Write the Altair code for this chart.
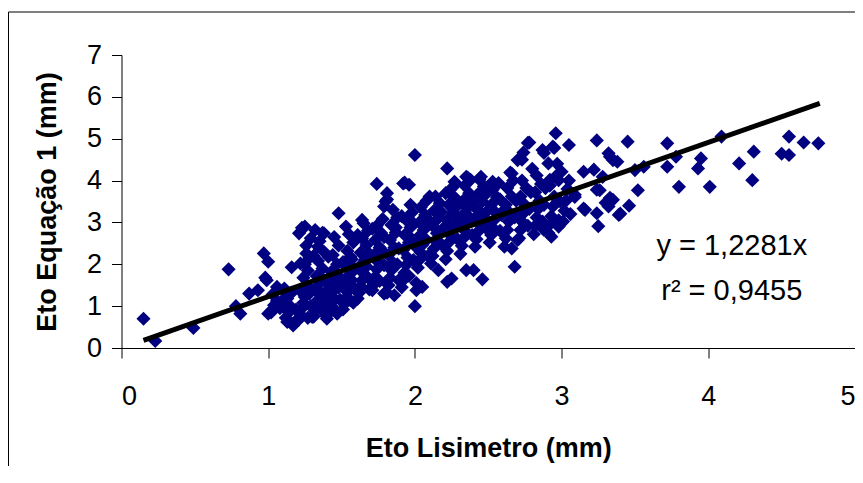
import altair as alt
import pandas as pd

# Eto Lisimetro (mm) -- x values
eto_lisimetro = [
    0.15, 0.23, 0.49, 0.73, 0.81, 0.78, 0.87, 0.93, 0.97, 1.00, 0.98, 1.00, 1.06, 1.12, 1.13, 1.17,
    1.21, 1.25, 1.22, 1.26, 1.32, 1.34, 1.38, 1.41, 1.48, 1.53, 1.56, 1.47, 1.40, 1.30, 1.56, 1.64,
    1.74, 1.81, 1.79, 1.92, 1.96, 1.97, 2.00, 2.00, 2.05, 2.01, 1.86, 1.79, 2.10, 2.22, 2.27, 2.35,
    2.16, 2.22, 2.25, 2.35, 2.40, 2.46, 2.68, 2.66, 2.70, 2.66, 2.70, 2.74, 2.78, 2.87, 2.91, 2.96,
    2.94, 3.05, 3.00, 2.98, 2.93, 2.98, 3.09, 3.15, 3.16, 3.24, 3.24, 3.25, 3.28, 3.26, 3.32, 3.35,
    3.32, 3.35, 3.39, 3.45, 3.46, 3.52, 3.50, 3.56, 3.72, 3.72, 3.80, 3.78, 3.93, 3.95, 4.01, 4.09,
    4.21, 4.31, 4.30, 4.50, 4.55, 4.55, 4.65, 4.75,
    1.93, 2.16, 1.80, 1.23, 1.37, 2.77, 2.95, 2.88, 3.33, 3.38, 2.73, 2.80, 3.22, 2.36, 2.45, 2.53,
    2.65, 2.92, 3.24, 3.09, 3.33, 3.30, 3.15, 3.40, 0.99, 1.16, 1.12, 1.02,
    1.02, 1.04, 1.06, 1.03, 1.08,
    1.10, 1.12, 1.14, 1.15, 1.13, 1.16, 1.18, 1.19, 1.11,
    1.21, 1.22, 1.23, 1.24, 1.25, 1.22, 1.26, 1.24, 1.27, 1.25, 1.28, 1.26, 1.29, 1.27, 1.29, 1.28,
    1.31, 1.32, 1.33, 1.34, 1.35, 1.32, 1.36, 1.33, 1.37, 1.34, 1.38, 1.35, 1.31, 1.36, 1.38, 1.39, 1.37, 1.39,
    1.41, 1.42, 1.43, 1.44, 1.45, 1.42, 1.46, 1.43, 1.47, 1.44, 1.48, 1.45, 1.46, 1.49, 1.48, 1.47, 1.41,
    1.51, 1.52, 1.53, 1.54, 1.55, 1.52, 1.56, 1.53, 1.57, 1.54, 1.58, 1.55, 1.58, 1.59, 1.57, 1.59, 1.51,
    1.61, 1.62, 1.63, 1.64, 1.65, 1.62, 1.66, 1.63, 1.67, 1.64, 1.68, 1.65, 1.69, 1.68, 1.67, 1.69, 1.61,
    1.71, 1.72, 1.73, 1.74, 1.75, 1.72, 1.76, 1.73, 1.77, 1.74, 1.78, 1.76, 1.79, 1.78, 1.79, 1.71,
    1.81, 1.82, 1.83, 1.84, 1.85, 1.82, 1.86, 1.83, 1.87, 1.84, 1.88, 1.85, 1.89, 1.88, 1.89, 1.87, 1.81,
    1.91, 1.92, 1.93, 1.94, 1.95, 1.92, 1.96, 1.93, 1.97, 1.94, 1.98, 1.96, 1.99, 1.98, 1.99, 1.91,
    2.01, 2.02, 2.03, 2.04, 2.05, 2.02, 2.06, 2.03, 2.07, 2.04, 2.08, 2.09, 2.08, 2.09, 2.01,
    2.11, 2.12, 2.13, 2.14, 2.15, 2.12, 2.16, 2.13, 2.17, 2.14, 2.18, 2.19, 2.18, 2.11,
    2.21, 2.22, 2.23, 2.24, 2.25, 2.22, 2.26, 2.23, 2.27, 2.24, 2.28, 2.29, 2.28, 2.29, 2.21,
    2.31, 2.32, 2.33, 2.34, 2.35, 2.32, 2.36, 2.33, 2.37, 2.34, 2.38, 2.39, 2.38, 2.39, 2.31,
    2.41, 2.42, 2.43, 2.44, 2.45, 2.42, 2.46, 2.43, 2.47, 2.44, 2.48, 2.49, 2.48, 2.41,
    2.51, 2.52, 2.53, 2.54, 2.55, 2.52, 2.56, 2.53, 2.57, 2.58, 2.59, 2.58, 2.51,
    2.61, 2.62, 2.63, 2.64, 2.65, 2.62, 2.66, 2.63, 2.67, 2.68, 2.69, 2.61,
    2.71, 2.72, 2.73, 2.74, 2.75, 2.72, 2.76, 2.73, 2.77, 2.78, 2.79, 2.71,
    2.81, 2.82, 2.83, 2.84, 2.85, 2.82, 2.86, 2.83, 2.87, 2.88, 2.89, 2.88,
    2.91, 2.92, 2.93, 2.94, 2.95, 2.92, 2.96, 2.97, 2.98, 2.99,
    3.01, 3.02, 3.03, 3.04, 3.05, 3.06,
]

# Eto Equação 1 (mm) -- y values
eto_equacao = [
    0.70, 0.17, 0.48, 1.88, 0.82, 1.00, 1.30, 1.38, 2.26, 2.06, 1.68, 0.82, 1.46, 1.22, 0.62, 0.54,
    2.74, 2.90, 2.02, 2.26, 2.82, 2.42, 2.74, 2.18, 3.22, 2.90, 2.18, 0.82, 0.70, 0.74, 1.14, 3.06,
    3.92, 3.70, 3.38, 3.93, 3.90, 3.42, 4.61, 1.00, 1.46, 1.38, 1.26, 1.30, 3.62, 4.29, 3.97, 4.09,
    1.86, 1.58, 1.66, 1.86, 1.86, 1.64, 1.94, 2.38, 2.58, 4.17, 4.49, 4.67, 4.91, 4.73, 4.41, 5.13,
    4.81, 4.85, 4.21, 4.01, 2.66, 2.90, 3.66, 4.21, 3.30, 4.96, 3.22, 2.91, 4.09, 3.77, 4.65, 4.49,
    3.38, 3.54, 3.18, 4.93, 3.40, 3.77, 4.25, 4.33, 4.89, 4.33, 3.85, 4.57, 4.29, 4.53, 3.85, 5.05,
    4.41, 4.69, 4.01, 4.64, 4.61, 5.05, 4.91, 4.89,
    3.95, 3.30, 3.50, 2.87, 2.75, 4.90, 4.78, 4.66, 4.57, 4.45, 4.50, 4.28, 4.26, 4.07, 4.09, 3.97,
    4.19, 4.02, 3.78, 3.61, 3.59, 3.47, 3.33, 3.21, 1.62, 1.93, 1.07, 0.85,
    0.88, 1.02, 1.12, 1.28, 0.95,
    1.05, 0.72, 0.85, 1.00, 1.18, 1.32, 0.62, 0.92, 1.42,
    0.68, 0.80, 0.95, 1.08, 1.22, 1.36, 1.52, 1.68, 1.85, 2.00, 2.15, 2.45, 2.62, 0.72, 1.00, 1.30,
    0.75, 0.88, 1.02, 1.15, 1.28, 1.42, 1.58, 1.72, 1.90, 2.08, 2.30, 2.55, 2.20, 0.95, 1.10, 1.35, 1.65, 0.78,
    0.82, 0.95, 1.08, 1.22, 1.38, 1.52, 1.66, 1.82, 2.00, 2.22, 2.45, 2.65, 0.90, 1.15, 1.45, 1.75, 1.28,
    0.92, 1.05, 1.20, 1.34, 1.48, 1.62, 1.78, 1.95, 2.12, 2.32, 2.52, 2.72, 1.08, 1.40, 1.62, 1.88, 2.05,
    1.18, 1.32, 1.48, 1.62, 1.78, 1.94, 2.10, 2.28, 2.46, 2.62, 2.80, 2.98, 1.40, 1.68, 1.95, 2.25, 2.70,
    1.38, 1.52, 1.70, 1.88, 2.05, 2.22, 2.40, 2.58, 2.75, 2.92, 3.08, 1.60, 1.98, 2.32, 2.65, 2.85,
    1.32, 1.50, 1.68, 1.86, 2.04, 2.22, 2.40, 2.58, 2.76, 2.94, 3.12, 3.30, 1.62, 2.00, 2.38, 2.88, 3.55,
    1.45, 1.62, 1.80, 1.98, 2.16, 2.34, 2.52, 2.70, 2.88, 3.06, 3.24, 1.72, 2.10, 2.60, 2.98, 3.15,
    1.55, 1.92, 2.10, 2.28, 2.46, 2.64, 2.82, 3.00, 3.18, 3.36, 3.52, 2.20, 2.58, 2.95, 2.40,
    2.02, 2.20, 2.38, 2.56, 2.74, 2.92, 3.10, 3.28, 3.46, 3.62, 2.48, 2.85, 3.25, 3.00,
    2.12, 2.32, 2.52, 2.70, 2.88, 3.06, 3.24, 3.42, 3.60, 3.78, 3.92, 2.60, 3.00, 3.40, 3.70,
    2.25, 2.44, 2.62, 2.80, 2.98, 3.16, 3.34, 3.52, 3.70, 3.88, 4.02, 2.70, 3.10, 3.50, 3.00,
    2.42, 2.60, 2.78, 2.96, 3.14, 3.32, 3.50, 3.68, 3.86, 4.02, 2.88, 3.26, 3.66, 3.10,
    2.52, 2.70, 2.88, 3.06, 3.24, 3.42, 3.60, 3.78, 3.94, 2.80, 3.18, 3.55, 3.00,
    2.42, 2.62, 2.82, 3.02, 3.22, 3.42, 3.62, 3.82, 4.00, 3.12, 3.52, 3.30,
    2.62, 2.82, 3.02, 3.22, 3.42, 3.62, 3.82, 4.00, 2.92, 3.32, 3.72, 3.15,
    2.72, 2.92, 3.12, 3.32, 3.52, 3.72, 3.92, 4.12, 3.02, 3.42, 3.82, 2.82,
    2.75, 2.95, 3.15, 3.38, 3.62, 3.88, 4.10, 4.40, 3.05, 3.50,
    3.02, 3.28, 3.52, 3.80, 4.00, 3.20,
]

# Linear trend line through the origin
slope = 1.2281
line_x = [0.15, 4.76]
line_y = [slope * v for v in line_x]

label_text = ["y = 1,2281x", "r² = 0,9455"]
label_x = [4.16, 4.16]
label_y = [2.43, 1.35]

n = min(len(eto_lisimetro), len(eto_equacao))
points = pd.DataFrame({"x": eto_lisimetro[:n], "y": eto_equacao[:n]})
trend = pd.DataFrame({"x": line_x, "y": line_y})
labels = pd.DataFrame({"x": label_x, "y": label_y, "t": label_text})
frame = pd.DataFrame({"a": [0]})

FONT = "Liberation Sans"

x_enc = alt.X(
    "x:Q",
    scale=alt.Scale(domain=[0, 5], nice=False, zero=True),
    axis=alt.Axis(values=[0, 1, 2, 3, 4, 5], title="Eto Lisimetro (mm)", format="d",
                  labelPadding=25, titlePadding=26),
)
y_enc = alt.Y(
    "y:Q",
    scale=alt.Scale(domain=[0, 7], nice=False, zero=True),
    axis=alt.Axis(values=[0, 1, 2, 3, 4, 5, 6, 7], title="Eto Equação 1 (mm)", format="d",
                  labelPadding=10, titlePadding=25),
)

box = alt.Chart(frame).mark_rect(fill="transparent", stroke="#000000", strokeWidth=1).encode(
    x=alt.value(-113), x2=alt.value(900), y=alt.value(-43), y2=alt.value(600)
)

scatter = alt.Chart(points).mark_point(
    shape="diamond", filled=True, size=200, color="#000080", opacity=1
).encode(x=x_enc, y=y_enc)

line = alt.Chart(trend).mark_line(color="#000000", strokeWidth=5, strokeCap="butt").encode(
    x=x_enc, y=y_enc
)

text = alt.Chart(labels).mark_text(
    font=FONT, fontSize=29, color="#000000", align="center", baseline="middle"
).encode(x=x_enc, y=y_enc, text="t:N")

chart = (
    alt.layer(box, scatter, line, text)
    .properties(
        width=733.5,
        height=293,
        autosize=alt.AutoSizeParams(type="none"),
        padding={"left": 113.5, "top": 47, "right": 0, "bottom": 118},
    )
    .configure_view(stroke=None)
    .configure_axis(
        grid=False,
        domainColor="#000000",
        domainWidth=1,
        tickColor="#000000",
        tickWidth=1,
        tickSize=10,
        labelFont=FONT,
        labelFontSize=27,
        labelColor="#000000",
        titleFont=FONT,
        titleFontSize=27,
        titleFontWeight="bold",
        titleColor="#000000",
    )
)

chart.save("out.html", embed_options={"renderer": "svg", "actions": False})
